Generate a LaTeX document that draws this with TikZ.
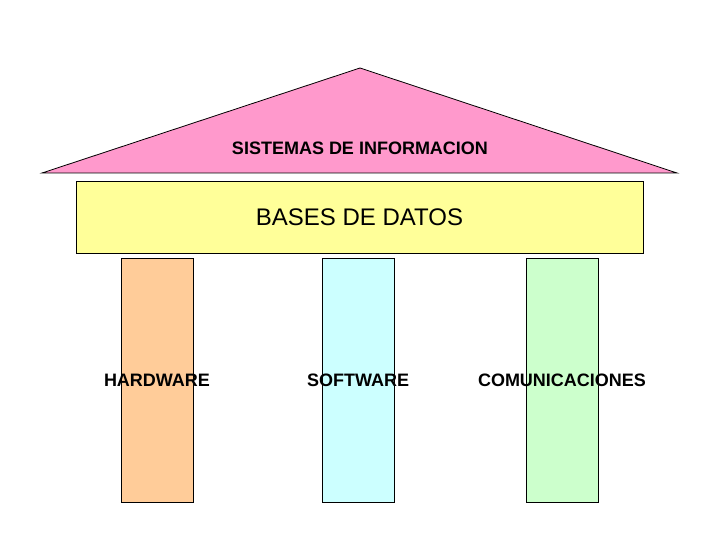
\documentclass[tikz,border=0pt]{standalone}
\usepackage{fontspec}
\setmainfont{Liberation Sans}
\usepackage{xcolor}
\definecolor{techo}{HTML}{FF99CC}
\definecolor{viga}{HTML}{FFFF99}
\definecolor{hwcol}{HTML}{FFCC99}
\definecolor{swcol}{HTML}{CCFFFF}
\definecolor{comcol}{HTML}{CCFFCC}

\begin{document}
\begin{tikzpicture}[x=1pt,y=-1pt,
  pilar/.style={draw,line width=0.8pt,minimum width=72pt,minimum height=244pt,inner sep=0pt},
  etiqueta/.style={font=\fontsize{18}{20}\selectfont\bfseries}]
  \useasboundingbox[fill=white] (0,0) rectangle (720,540);
  % techo
  \fill[techo] (360,68) -- (677,173) -- (42,173) -- cycle;
  \draw[line width=0.8pt] (42,173) -- (360,68) -- (677,173) -- cycle;
  \node[etiqueta] (si) at (360,148) {SISTEMAS DE INFORMACION};
  % viga
  \node[draw,fill=viga,line width=0.8pt,minimum width=567pt,minimum height=72pt,inner sep=0pt] (bd) at (359.5,217) {};
  \node[font=\fontsize{24}{26}\selectfont] (bdt) at (bd.center) {BASES DE DATOS};
  % pilares
  \node[pilar,fill=hwcol] (hw) at (157,380) {};
  \node[pilar,fill=swcol] (sw) at (358,380) {};
  \node[pilar,fill=comcol] (com) at (562,380) {};
  \node[etiqueta] (hwt) at (hw.center) {HARDWARE};
  \node[etiqueta] (swt) at (sw.center) {SOFTWARE};
  \node[etiqueta] (comt) at (com.center) {COMUNICACIONES};
\end{tikzpicture}
\end{document}
